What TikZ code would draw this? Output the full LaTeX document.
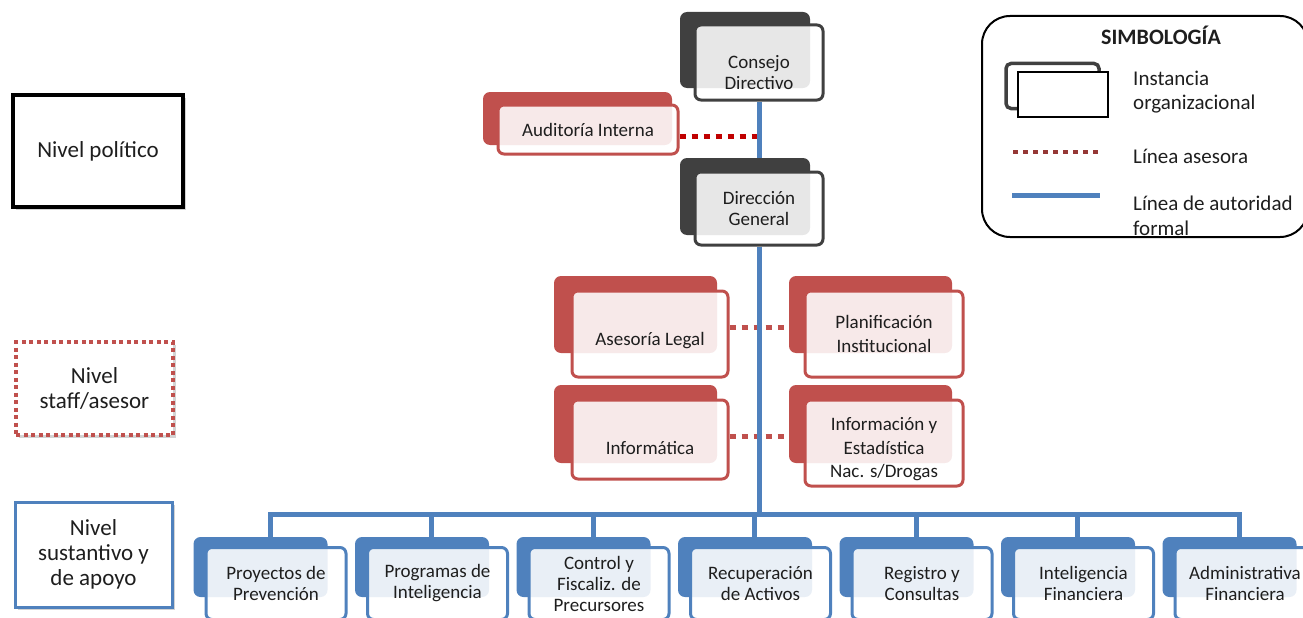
\documentclass[tikz,border=0pt]{standalone}
\usepackage{fontspec}
\setmainfont{Carlito}
\usetikzlibrary{positioning,backgrounds,shadows}
\definecolor{oscuro}{HTML}{404040}
\definecolor{rojo}{HTML}{C0504D}
\definecolor{azul}{HTML}{4F81BD}
\definecolor{rojovivo}{HTML}{C00000}
\definecolor{rojoley}{HTML}{953735}
\definecolor{tinta}{HTML}{1E1E1E}
\begin{document}
\begin{tikzpicture}[
        x=1pt, y=-1pt,
        node distance=161.5pt,
        fondo/.style={rectangle, rounded corners=7pt, fill=#1, inner sep=0pt},
        frente/.style={rectangle, rounded corners=6pt, draw=#1, line width=3pt, fill=white, fill opacity=0.88, text opacity=1, inner sep=0pt, align=center, text=tinta, font=\fontsize{19}{21}\selectfont},
        bajo/.style={fondo=azul, minimum width=134pt, minimum height=60pt},
        bajo frente/.style={frente=azul, minimum width=140pt, minimum height=72pt},
        nivel/.style={rectangle, draw=#1, line width=3.5pt, fill=white, inner sep=0pt, align=center, text=tinta, font=\fontsize{23}{25}\selectfont, drop shadow={shadow xshift=3pt, shadow yshift=-3pt, opacity=0.35}},
        autoridad/.style={draw=azul, line width=5pt},
        asesora/.style={draw=#1, line width=5pt, dash pattern=on 6pt off 6pt},
        leyenda/.style={inner sep=0pt, align=left, text=tinta, font=\fontsize{21}{25}\selectfont}
    ]
    \useasboundingbox (0,0) rectangle (1303,618);
    \clip (0,0) rectangle (1303,618);

    % Niveles
    \node[nivel=black, minimum width=170pt, minimum height=112pt] (politico) at (98,151) {Nivel político};
    \node[nivel=rojo, dash pattern=on 4pt off 3.5pt, minimum width=157pt, minimum height=93pt] (staff) at (94.5,388.5) {Nivel\\staff/asesor};
    \node[nivel=azul, line width=3pt, minimum width=157pt, minimum height=105pt] (sustantivo) at (93.5,554.5) {Nivel\\sustantivo y\\de apoyo};

    % Instancias
    \node[fondo=oscuro, minimum width=130pt, minimum height=76pt] (cons-b) at (745,50) {};
    \node[frente=oscuro, minimum width=128pt, minimum height=75pt, text height=55pt] (cons) at ([shift={(14,12.5)}]cons-b) {Consejo\\Directivo};
    \node[fondo=oscuro, minimum width=130pt, minimum height=77pt] (dir-b) at (745,196.5) {};
    \node[frente=oscuro, minimum width=128pt, minimum height=73pt] (dir) at ([shift={(14,12)}]dir-b) {Dirección\\General};
    \node[fondo=rojo, minimum width=189pt, minimum height=53pt] (aud-b) at (577.5,118.5) {};
    \node[frente=rojo, minimum width=180pt, minimum height=49pt] (aud) at ([shift={(10.5,11)}]aud-b) {Auditoría Interna};

    \node[fondo=rojo, minimum width=163pt, minimum height=77pt] (legal-b) at (635.5,314.5) {};
    \node[frente=rojo, minimum width=156pt, minimum height=86pt, text height=26pt] (legal) at ([shift={(14.5,19.5)}]legal-b) {Asesoría Legal};
    \node[fondo=rojo, minimum width=163pt, minimum height=77pt] (plan-b) at (870.5,314.5) {};
    \node[frente=rojo, minimum width=158pt, minimum height=86pt, font=\fontsize{19}{24}\selectfont] (plan) at ([shift={(13.5,19.5)}]plan-b) {Planificación\\Institucional};
    \node[fondo=rojo, minimum width=163pt, minimum height=78pt] (infor-b) at (635.5,424) {};
    \node[frente=rojo, minimum width=156pt, minimum height=79pt, text height=30pt, text depth=0pt] (infor) at ([shift={(14.5,15.5)}]infor-b) {Informática};
    \node[fondo=rojo, minimum width=163pt, minimum height=78pt] (estad-b) at (870.5,424) {};
    \node[frente=rojo, minimum width=158pt, minimum height=86pt, text height=73pt, font=\fontsize{19}{23.5}\selectfont] (estad) at ([shift={(13.5,19)}]estad-b) {Información y\\Estadística\\Nac. s/Drogas};

    \node[bajo] (prev-b) at (260.5,567) {};
    \node[bajo, right of=prev-b] (progr-b) {};
    \node[bajo, right of=progr-b] (prec-b) {};
    \node[bajo, right of=prec-b] (activ-b) {};
    \node[bajo, right of=activ-b] (regis-b) {};
    \node[bajo, right of=regis-b] (intel-b) {};
    \node[bajo, right of=intel-b] (admin-b) {};
    \node[bajo frente] (prev) at ([shift={(15.5,16.5)}]prev-b) {Proyectos de\\Prevención};
    \node[bajo frente] (progr) at ([shift={(15.5,16.5)}]progr-b) {Programas de\\Inteligencia};
    \node[bajo frente] (prec) at ([shift={(15.5,16.5)}]prec-b) {Control y\\Fiscaliz. de\\Precursores};
    \node[bajo frente] (activ) at ([shift={(15.5,16.5)}]activ-b) {Recuperación\\de Activos};
    \node[bajo frente] (regis) at ([shift={(15.5,16.5)}]regis-b) {Registro y\\Consultas};
    \node[bajo frente] (intel) at ([shift={(15.5,16.5)}]intel-b) {Inteligencia\\Financiera};
    \node[bajo frente] (admin) at ([shift={(15.5,16.5)}]admin-b) {Administrativa\\Financiera};

    % Conexiones
    \coordinate (bus) at (759,514);
    \begin{scope}[on background layer]
        \draw[asesora=rojovivo] ([yshift=-6.5pt]aud.east) -- ([yshift=-6.5pt]aud.east -| dir);
        \draw[asesora=rojo] ([yshift=7pt]legal.east) -- ([yshift=7pt]legal.east -| plan-b.west);
        \draw[asesora=rojo] ([yshift=3.5pt]infor.east) -- ([yshift=3.5pt]infor.east -| estad-b.west);
        \draw[autoridad] (cons) -- (dir);
        \draw[autoridad] (dir) -- (bus);
        \foreach \n in {prev,progr,prec,activ,regis,intel,admin}
            \draw[autoridad] (bus) -| ([xshift=-6pt]\n.north);
    \end{scope}

    % Simbologia
    \draw[line width=2pt, rounded corners=28pt] (982,16) rectangle (1308,237);
    \node[font=\bfseries\fontsize{22}{24}\selectfont, text=tinta, anchor=base, inner sep=0pt] (ley-tit) at (1161,45) {SIMBOLOGÍA};
    \node[draw=oscuro, line width=3.5pt, rounded corners=5pt, minimum width=93pt, minimum height=45pt, inner sep=0pt] (ley-b) at (1052.5,86) {};
    \node[draw=black, line width=1.3pt, fill=white, minimum width=90pt, minimum height=45pt, inner sep=0pt] (ley-f) at (1063,94.5) {};
    \node[leyenda, anchor=west, font=\fontsize{21}{24}\selectfont] (ley-inst) at (1133,92) {Instancia\\organizacional};
    \draw[rojoley, line width=4pt, dash pattern=on 5pt off 5pt] (1013,152) -- (1100,152);
    \node[leyenda, anchor=west] (ley-ase) at (1133,156) {Línea asesora};
    \draw[azul, line width=5pt] (1012,195) -- (1100,195);
    \node[leyenda, anchor=west] (ley-aut) at (1133,216) {Línea de autoridad\\formal};
\end{tikzpicture}
\end{document}
